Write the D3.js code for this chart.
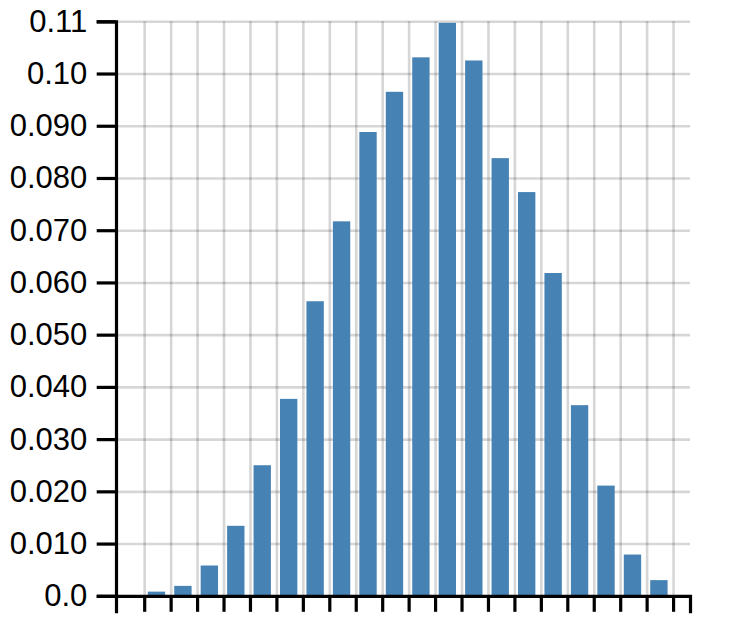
<!DOCTYPE html>
<meta charset="utf-8">
<style>
    body {
        margin: 0;
        background: #fff;
    }
    svg {
        display: block;
        font-family: "Liberation Sans", Arial, Helvetica, sans-serif;
    }
    .axis path,
    .axis line {
        stroke: #000;
        stroke-width: 3.2px;
    }
    .axis text {
        font-size: 31px;
        fill: #000;
    }
    .grid path {
        display: none;
    }
    .grid line {
        stroke: #000;
        stroke-opacity: 0.16;
        stroke-width: 2.6px;
    }
    .bar {
        fill: steelblue;
    }
</style>

<body>
<div id="chart-container"></div>
<script src="https://cdnjs.cloudflare.com/ajax/libs/d3/7.8.5/d3.min.js"></script>
<script>
    // bin edges of the histogram, the x axis shows them as unlabeled ticks
    var binEdges = [0, 1, 2, 3, 4, 5, 6, 7, 8, 9, 10, 11, 12, 13, 14, 15, 16, 17, 18, 19, 20];
    // visible part of the x axis, a bit wider than the bins
    var xExtent = [-1.066, 20.64];
    // share of all values that falls in each bin
    var binShares = [0.0008, 0.0019, 0.0058, 0.0134, 0.0250, 0.0377, 0.0564, 0.0717, 0.0888, 0.0965,
                     0.1031, 0.1097, 0.1025, 0.0838, 0.0773, 0.0618, 0.0365, 0.0211, 0.0079, 0.0030];
    // y axis ticks
    var yTickValues = [0, 0.01, 0.02, 0.03, 0.04, 0.05, 0.06, 0.07, 0.08, 0.09, 0.10, 0.11];

    var width = 746,
        height = 619,
        plotLeft = 116,
        plotRight = 690,
        plotTop = 21.3,
        plotBottom = 595.8;

    var svg = d3.select("#chart-container").append("svg")
        .attr("width", width)
        .attr("height", height);

    var xScale = d3.scaleLinear()
        .domain(xExtent)
        .range([plotLeft, plotRight]);

    var yScale = d3.scaleLinear()
        .domain([0, d3.max(yTickValues)])
        .range([plotBottom, plotTop]);

    // grid lines sit behind the bars
    svg.append("g")
        .attr("class", "grid grid--x")
        .attr("transform", "translate(0," + plotBottom + ")")
        .call(d3.axisBottom(xScale)
            .tickValues(binEdges)
            .tickSize(-(plotBottom - plotTop))
            .tickFormat(""));

    svg.append("g")
        .attr("class", "grid grid--y")
        .attr("transform", "translate(" + plotLeft + ",0)")
        .call(d3.axisLeft(yScale)
            .tickValues(yTickValues)
            .tickSize(-(plotRight - plotLeft))
            .tickFormat(""));

    // one bar per bin, slightly narrower than the bin itself
    var barInsetLeft = 3.6,
        barGap = 9.1;
    svg.append("g")
        .selectAll("rect")
        .data(binShares)
        .enter().append("rect")
        .attr("class", "bar")
        .attr("x", (d, i) => xScale(binEdges[i]) + barInsetLeft)
        .attr("width", (d, i) => xScale(binEdges[i + 1]) - xScale(binEdges[i]) - barGap)
        .attr("y", d => yScale(d))
        .attr("height", d => yScale(0) - yScale(d));

    svg.append("g")
        .attr("class", "axis axis--x")
        .attr("transform", "translate(0," + plotBottom + ")")
        .call(d3.axisBottom(xScale)
            .tickValues(binEdges)
            .tickSizeInner(16)
            .tickSizeOuter(17.5)
            .tickFormat(""));

    svg.append("g")
        .attr("class", "axis axis--y")
        .attr("transform", "translate(" + plotLeft + ",0)")
        .call(d3.axisLeft(yScale)
            .tickValues(yTickValues)
            .tickSize(19.3)
            .tickPadding(9.4)
            .tickFormat(d3.format(".2r")));

    // let the stylesheet decide the axis fonts
    svg.selectAll(".axis").attr("font-size", null).attr("font-family", null);
</script>
</body>

</html>
